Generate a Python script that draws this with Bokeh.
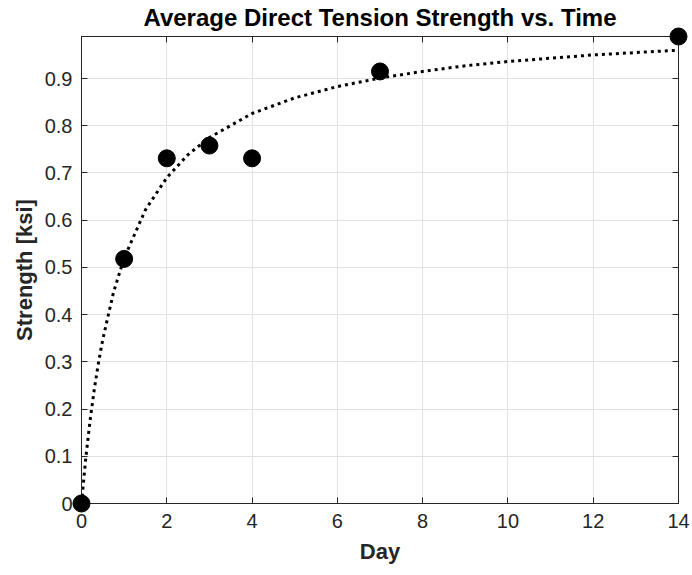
from bokeh.plotting import figure
from bokeh.models import (LinearAxis, FixedTicker, CustomJSTickFormatter, Range1d, Title,
                          CustomLabelingPolicy)
from bokeh.embed import file_html
from bokeh.resources import INLINE

# measured data
days = [0, 1, 2, 3, 4, 7, 14]
strength = [0.0, 0.518, 0.731, 0.758, 0.731, 0.915, 0.989]

# fitted curve, values
fit_days = [0, 0.1, 0.2, 0.3, 0.4, 0.5, 0.75, 1, 1.5, 2, 2.5, 3, 4, 5, 6, 7, 8, 9, 10, 11, 12, 13, 14]
fit_strength = [0.0, 0.096, 0.175, 0.242, 0.299, 0.348, 0.447, 0.520, 0.622, 0.690, 0.739,
                0.775, 0.826, 0.859, 0.883, 0.901, 0.915, 0.927, 0.936, 0.943, 0.950, 0.955, 0.960]

x_ticks = [0, 2, 4, 6, 8, 10, 12, 14]
y_ticks = [0, 0.1, 0.2, 0.3, 0.4, 0.5, 0.6, 0.7, 0.8, 0.9]

FONT = "Liberation Sans"
AX = "#262626"

p = figure(width=690, height=567, output_backend="svg", toolbar_location=None,
           x_range=Range1d(0, 14), y_range=Range1d(0, 0.989),
           min_border_left=81, min_border_right=12, min_border_top=36, min_border_bottom=64)

p.title = Title(text="Average Direct Tension Strength vs. Time", align="center",
                text_font=FONT, text_font_size="24px", text_font_style="bold",
                text_color="black", offset=0, standoff=3)

p.xaxis.axis_label = "Day"
p.yaxis.axis_label = "Strength [ksi]"
fmt = CustomJSTickFormatter(code="return String(Number(tick.toFixed(1)));")
for ax, ticks in ((p.xaxis[0], x_ticks), (p.yaxis[0], y_ticks)):
    ax.ticker = FixedTicker(ticks=ticks)
    ax.formatter = fmt
    ax.major_tick_in = 6
    ax.major_tick_out = 0
    ax.minor_tick_line_color = None
    ax.axis_line_color = AX
    ax.major_tick_line_color = AX
    ax.major_label_text_font = FONT
    ax.major_label_text_font_size = "20px"
    ax.major_label_text_color = AX
    ax.axis_label_text_font = FONT
    ax.axis_label_text_font_size = "22px"
    ax.axis_label_text_font_style = "bold"
    ax.axis_label_text_color = AX
p.xaxis.major_label_standoff = 10
p.yaxis.major_label_standoff = 9
p.xaxis.axis_label_standoff = 8
p.yaxis.axis_label_standoff = 5

no_labels = CustomLabelingPolicy(code="""
    for (const i of Array.from(indices)) indices.unset(i)
    return indices
""")
for loc, ticks in (("right", y_ticks), ("above", x_ticks)):
    a = LinearAxis(ticker=FixedTicker(ticks=ticks), major_tick_in=6, major_tick_out=0,
                   minor_tick_line_color=None, axis_line_color=AX, major_tick_line_color=AX,
                   major_label_policy=no_labels, major_label_standoff=0,
                   major_label_text_font_size="1px", axis_label_standoff=0)
    p.add_layout(a, loc)

p.outline_line_color = AX
p.xgrid.grid_line_color = "#e2e2e2"
p.ygrid.grid_line_color = "#e2e2e2"
p.xgrid.ticker = FixedTicker(ticks=x_ticks)
p.ygrid.ticker = FixedTicker(ticks=y_ticks)
p.background_fill_color = "white"
p.border_fill_color = "white"

p.line(fit_days, fit_strength, line_color="black", line_width=3, line_dash="3 4")
r = p.scatter(days, strength, size=17, fill_color="black", line_color="black")
r.level = "overlay"

open("out.html", "w").write(file_html(p, INLINE))
